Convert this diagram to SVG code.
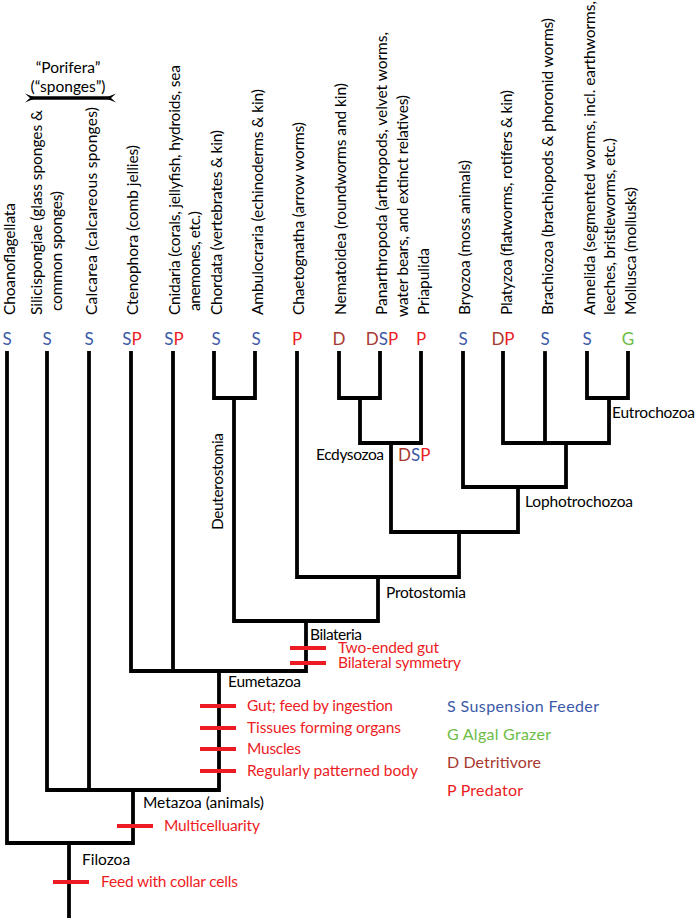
<svg xmlns="http://www.w3.org/2000/svg" width="697" height="918" viewBox="0 0 697 918">
<style>
text{font-family:Lato,"Open Sans","Liberation Sans",sans-serif;font-size:15.5px;fill:#000}
.tr{fill:#ed1c24}
.S{fill:#3b59a8}.P{fill:#ed1c24}.D{fill:#a8392f}.G{fill:#6cbd45}
.code{font-size:17px;text-anchor:middle}
.leg{font-size:16px}
.br{fill:none;stroke:#000;stroke-width:3.8;stroke-linejoin:miter;stroke-linecap:square}
.tick{stroke:#ed1c24;stroke-width:4}
</style>
<g id="porifera">
<text x="68" y="73" text-anchor="middle">“Porifera”</text>
<text x="68" y="92" text-anchor="middle">(“sponges”)</text>
<line x1="30" y1="98" x2="111" y2="98" stroke="#000" stroke-width="3.6"/>
<polygon points="25,93.5 36,98 25,102.5 30,98" fill="#000"/>
<polygon points="116,93.5 105,98 116,102.5 111,98" fill="#000"/>
</g>
<g id="leaf-labels">
<g id="choanoflagellata"><text transform="translate(15,315) rotate(-90)" textLength="112">Choanoflagellata</text></g>
<g id="silicispongiae"><text transform="translate(42,315) rotate(-90)" textLength="205">Silicispongiae (glass sponges &amp;</text><text transform="translate(62,311) rotate(-90)" textLength="120">common sponges)</text></g>
<g id="calcarea"><text transform="translate(97,315) rotate(-90)" textLength="208">Calcarea (calcareous sponges)</text></g>
<g id="ctenophora"><text transform="translate(138,315) rotate(-90)" textLength="170">Ctenophora (comb jellies)</text></g>
<g id="cnidaria"><text transform="translate(180,315) rotate(-90)" textLength="250">Cnidaria (corals, jellyfish, hydroids, sea</text><text transform="translate(200,311) rotate(-90)" textLength="100">anemones, etc.)</text></g>
<g id="chordata"><text transform="translate(222,315) rotate(-90)" textLength="185">Chordata (vertebrates &amp; kin)</text></g>
<g id="ambulocraria"><text transform="translate(263,315) rotate(-90)" textLength="226">Ambulocraria (echinoderms &amp; kin)</text></g>
<g id="chaetognatha"><text transform="translate(304,315) rotate(-90)" textLength="193">Chaetognatha (arrow worms)</text></g>
<g id="nematoidea"><text transform="translate(346,315) rotate(-90)" textLength="232">Nematoidea (roundworms and kin)</text></g>
<g id="panarthropoda"><text transform="translate(387,315) rotate(-90)" textLength="283">Panarthropoda (arthropods, velvet worms,</text><text transform="translate(408,317) rotate(-90)" textLength="222">water bears, and extinct relatives)</text></g>
<g id="priapulida"><text transform="translate(429,315) rotate(-90)" textLength="67">Priapulida</text></g>
<g id="bryozoa"><text transform="translate(470,315) rotate(-90)" textLength="155">Bryozoa (moss animals)</text></g>
<g id="platyzoa"><text transform="translate(512,315) rotate(-90)" textLength="225">Platyzoa (flatworms, rotifers &amp; kin)</text></g>
<g id="brachiozoa"><text transform="translate(553,315) rotate(-90)" textLength="297">Brachiozoa (brachiopods &amp; phoronid worms)</text></g>
<g id="annelida"><text transform="translate(595,315) rotate(-90)" textLength="314">Annelida (segmented worms, incl. earthworms,</text><text transform="translate(615,315) rotate(-90)" textLength="177">leeches, bristleworms, etc.)</text></g>
<g id="mollusca"><text transform="translate(636,315) rotate(-90)" textLength="128">Mollusca (mollusks)</text></g>
</g>
<g id="feeding-codes">
<text x="7" y="345" class="code"><tspan class="S">S</tspan></text>
<text x="47" y="345" class="code"><tspan class="S">S</tspan></text>
<text x="89" y="345" class="code"><tspan class="S">S</tspan></text>
<text x="132" y="345" class="code"><tspan class="S">S</tspan><tspan class="P">P</tspan></text>
<text x="174" y="345" class="code"><tspan class="S">S</tspan><tspan class="P">P</tspan></text>
<text x="216" y="345" class="code"><tspan class="S">S</tspan></text>
<text x="256" y="345" class="code"><tspan class="S">S</tspan></text>
<text x="297" y="345" class="code"><tspan class="P">P</tspan></text>
<text x="339" y="345" class="code"><tspan class="D">D</tspan></text>
<text x="382" y="345" class="code"><tspan class="D">D</tspan><tspan class="S">S</tspan><tspan class="P">P</tspan></text>
<text x="421" y="345" class="code"><tspan class="P">P</tspan></text>
<text x="463" y="345" class="code"><tspan class="S">S</tspan></text>
<text x="503" y="345" class="code"><tspan class="D">D</tspan><tspan class="P">P</tspan></text>
<text x="545" y="345" class="code"><tspan class="S">S</tspan></text>
<text x="587" y="345" class="code"><tspan class="S">S</tspan></text>
<text x="628" y="345" class="code"><tspan class="G">G</tspan></text>
</g>
<g id="connectors">
<path class="br" d="M7,353 V843 H133 V790"/>
<path class="br" d="M47,353 V790 H219 V671"/>
<path class="br" d="M89,353 V790"/>
<path class="br" d="M131,353 V671 H306 V621"/>
<path class="br" d="M173,353 V671"/>
<path class="br" d="M214,353 V398 H255 V353"/>
<path class="br" d="M234,398 V621 H378 V577"/>
<path class="br" d="M297,353 V577 H459 V532"/>
<path class="br" d="M339,353 V398 H380 V353"/>
<path class="br" d="M360,398 V443 H421 V353"/>
<path class="br" d="M391,443 V532 H518 V487"/>
<path class="br" d="M463,353 V487 H566 V443"/>
<path class="br" d="M503,353 V443 H609 V398"/>
<path class="br" d="M545,353 V443"/>
<path class="br" d="M587,353 V398 H628 V353"/>
<path class="br" d="M69,843 V918"/>
</g>
<g id="filozoa"><text x="82" y="865">Filozoa</text><line class="tick" x1="53" y1="882" x2="89" y2="882"/><text class="tr" x="101" y="887" textLength="137">Feed with collar cells</text></g>
<g id="metazoa"><text x="143" y="808" textLength="121">Metazoa (animals)</text><line class="tick" x1="117" y1="826" x2="153" y2="826"/><text class="tr" x="164" y="831" textLength="96">Multicelluarity</text></g>
<g id="eumetazoa"><text x="228" y="687" textLength="73">Eumetazoa</text>
<line class="tick" x1="200" y1="706" x2="236" y2="706"/><text class="tr" x="247" y="711" textLength="146">Gut; feed by ingestion</text>
<line class="tick" x1="200" y1="728" x2="236" y2="728"/><text class="tr" x="247" y="733" textLength="154">Tissues forming organs</text>
<line class="tick" x1="200" y1="749" x2="236" y2="749"/><text class="tr" x="247" y="754" textLength="54">Muscles</text>
<line class="tick" x1="200" y1="771" x2="236" y2="771"/><text class="tr" x="247" y="776" textLength="171">Regularly patterned body</text></g>
<g id="bilateria"><text x="310" y="640" textLength="52">Bilateria</text>
<line class="tick" x1="290" y1="648" x2="326" y2="648"/><text class="tr" x="338" y="653" textLength="101">Two-ended gut</text>
<line class="tick" x1="290" y1="663" x2="326" y2="663"/><text class="tr" x="338" y="668" textLength="123">Bilateral symmetry</text></g>
<g id="deuterostomia"><text transform="translate(223,530) rotate(-90)" textLength="97">Deuterostomia</text></g>
<g id="protostomia"><text x="386" y="598" textLength="80">Protostomia</text></g>
<g id="ecdysozoa"><text x="316" y="460" textLength="68">Ecdysozoa</text><text x="398" y="461" style="font-size:17px"><tspan class="D">D</tspan><tspan class="S">S</tspan><tspan class="P">P</tspan></text></g>
<g id="lophotrochozoa"><text x="525" y="507" textLength="108">Lophotrochozoa</text></g>
<g id="eutrochozoa"><text x="612" y="418" textLength="83">Eutrochozoa</text></g>
<g id="legend">
<text class="leg S" x="447" y="712" textLength="152">S Suspension Feeder</text>
<text class="leg G" x="447" y="740" textLength="104">G Algal Grazer</text>
<text class="leg D" x="447" y="768" textLength="94">D Detritivore</text>
<text class="leg P" x="447" y="796" textLength="76">P Predator</text>
</g>
</svg>
